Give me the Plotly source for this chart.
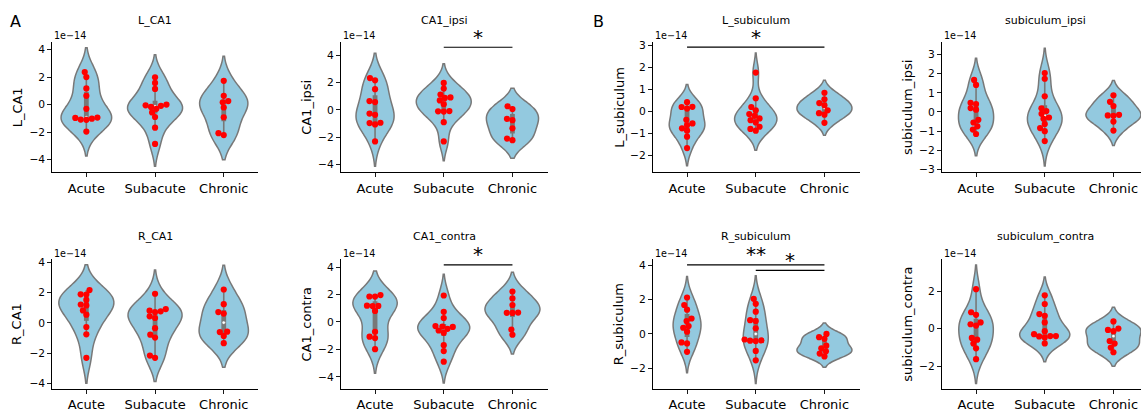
import numpy as np
import plotly.graph_objects as go

categories = ["Acute", "Subacute", "Chronic"]

# Values in units of 1e-14 (axis offset label "1e−14")
L_CA1_acute    = [2.37, 2.00, 1.18, 0.64, -0.31, -0.94, -0.97, -1.02, -1.09, -1.11, -1.96]
L_CA1_subacute = [1.99, 1.58, 1.14, 0.00, -0.05, -0.09, -0.17, -0.31, -0.57, -0.90, -1.68, -2.86]
L_CA1_chronic  = [1.73, 0.64, 0.26, 0.17, -0.21, -0.92, -2.08, -2.22]

CA1_ipsi_acute    = [2.34, 2.17, 1.52, 0.65, 0.58, -0.27, -0.36, -0.94, -0.96, -1.06, -2.31]
CA1_ipsi_subacute = [1.98, 1.57, 1.13, 0.92, 0.88, 0.70, 0.42, -0.08, -0.10, -0.12, -0.90, -2.31]
CA1_ipsi_chronic  = [0.27, 0.07, -0.65, -0.75, -1.35, -2.10, -2.22]

L_subiculum_acute    = [0.42, 0.21, 0.20, 0.13, -0.38, -0.55, -0.62, -0.77, -0.88, -1.15, -1.67]
L_subiculum_subacute = [1.77, 0.60, 0.20, 0.05, -0.12, -0.20, -0.32, -0.40, -0.50, -0.70, -0.80, -0.88]
L_subiculum_chronic  = [0.85, 0.55, 0.38, 0.28, 0.05, -0.08, -0.15, -0.52]

subiculum_ipsi_acute    = [1.67, 1.41, 0.48, 0.41, 0.20, 0.12, -0.41, -0.55, -0.75, -0.92, -1.15]
subiculum_ipsi_subacute = [2.03, 1.73, 0.82, 0.19, 0.05, -0.10, -0.29, -0.36, -0.63, -0.84, -1.00, -1.52]
subiculum_ipsi_chronic  = [0.87, 0.53, 0.31, -0.15, -0.18, -0.20, -0.50, -0.97]

R_CA1_acute    = [2.16, 1.88, 1.87, 1.51, 1.21, 1.15, 0.82, 0.54, -0.28, -0.76, -2.31]
R_CA1_subacute = [1.92, 0.91, 0.80, 0.76, 0.71, 0.43, 0.32, -0.35, -0.78, -0.97, -2.16, -2.31]
R_CA1_chronic  = [2.20, 1.23, 0.71, 0.61, -0.58, -0.61, -0.86, -1.34]

CA1_contra_acute    = [1.96, 1.86, 1.85, 1.19, 1.17, 1.16, 0.81, -0.72, -1.07, -1.17, -1.98]
CA1_contra_subacute = [1.93, 0.74, 0.29, -0.30, -0.33, -0.36, -0.50, -0.62, -0.79, -1.69, -2.12, -2.89]
CA1_contra_chronic  = [2.22, 1.72, 1.24, 0.69, 0.67, 0.66, -0.55, -0.93]

R_subiculum_acute    = [2.13, 1.69, 1.42, 0.90, 0.75, 0.46, 0.36, 0.13, -0.50, -0.56, -1.05]
R_subiculum_subacute = [2.05, 1.76, 1.30, 0.80, 0.75, 0.33, -0.33, -0.38, -0.40, -0.42, -1.00, -1.55]
R_subiculum_chronic  = [0.00, -0.19, -0.29, -0.69, -0.84, -1.02, -1.15, -1.32]

subiculum_contra_acute    = [2.10, 0.87, 0.73, 0.33, 0.23, 0.16, -0.50, -0.59, -0.80, -1.05, -1.63]
subiculum_contra_subacute = [1.77, 1.31, 0.77, 0.68, 0.33, -0.14, -0.30, -0.40, -0.40, -0.42, -0.47, -0.79]
subiculum_contra_chronic  = [0.38, 0.00, -0.07, -0.14, -0.66, -0.80, -1.01, -1.26]

panel_titles = ["L_CA1", "CA1_ipsi", "L_subiculum", "subiculum_ipsi",
                "R_CA1", "CA1_contra", "R_subiculum", "subiculum_contra"]
panel_data = [
    [L_CA1_acute, L_CA1_subacute, L_CA1_chronic],
    [CA1_ipsi_acute, CA1_ipsi_subacute, CA1_ipsi_chronic],
    [L_subiculum_acute, L_subiculum_subacute, L_subiculum_chronic],
    [subiculum_ipsi_acute, subiculum_ipsi_subacute, subiculum_ipsi_chronic],
    [R_CA1_acute, R_CA1_subacute, R_CA1_chronic],
    [CA1_contra_acute, CA1_contra_subacute, CA1_contra_chronic],
    [R_subiculum_acute, R_subiculum_subacute, R_subiculum_chronic],
    [subiculum_contra_acute, subiculum_contra_subacute, subiculum_contra_chronic],
]
# significance annotations: (panel, group_a, group_b, label, bar level in data units)
sig_bars = [
    (1, 1, 2, "*", 4.60),
    (2, 0, 2, "*", 2.93),
    (5, 1, 2, "*", 4.17),
    (6, 0, 2, "**", 4.04),
    (6, 1, 2, "*", 3.72),
]

# ---------------- layout geometry ----------------
W, H = 1141, 414
col_px = [(52.0, 258.0), (340.7, 548.0), (652.7, 860.0), (941.7, 1141.0)]
col_center_px = [155.0, 444.3, 756.3, 1045.0]
ylabel_x_px = [17.0, 306.5, 619.3, 907.7]
row_px = [(40.0, 172.3), (260.3, 392.7)]
title_y_px = [17.3, 237.7]
offset_y_px = [33.3, 254.3]
yranges = [(-4.93, 4.53), (-4.58, 4.96), (-2.78, 3.15), (-3.15, 3.63),
           (-4.37, 4.22), (-4.89, 4.60), (-3.23, 4.39), (-3.22, 3.71)]
ydticks = [2, 2, 1, 1, 2, 2, 2, 2]
px_per_cat = 68.7

FILL = "#93c9df"
EDGE = "#787878"
DOT = "#ff0000"
FONT = "DejaVu Sans"
R_DOT = 2.7  # swarm radius in px


def beeswarm(vals, ppu_y, r):
    vals = np.asarray(vals, float)
    order = np.argsort(vals, kind="stable")
    ys = vals[order] * ppu_y
    swarm = []
    for y in ys:
        neigh = [(xj, yj) for (xj, yj) in swarm if abs(y - yj) < 2 * r]
        cands = [0.0]
        left_first = True
        for xj, yj in neigh:
            dy = y - yj
            dx = np.sqrt(max(4 * r * r - dy * dy, 0.0)) * 1.05
            pair = [xj - dx, xj + dx] if left_first else [xj + dx, xj - dx]
            cands.extend(pair)
            left_first = not left_first
        cands.sort(key=abs)
        chosen = cands[0]
        for cx in cands:
            if all((cx - xj) ** 2 + (y - yj) ** 2 >= 4 * r * r - 1e-9 for xj, yj in neigh):
                chosen = cx
                break
        swarm.append((chosen, y))
    out = np.empty(len(vals))
    out[order] = [s[0] for s in swarm]
    return out


fig = go.Figure()
annotations = []
shapes = []
layout_axes = {}

for k, (title, groups) in enumerate(zip(panel_titles, panel_data)):
    r, c = divmod(k, 4)
    sfx = "" if k == 0 else str(k + 1)
    xa, ya = "x" + sfx, "y" + sfx
    x0p, x1p = col_px[c]
    y0p, y1p = row_px[r]
    ylo, yhi = yranges[k]
    ppu_y = (y1p - y0p) / (yhi - ylo)
    xr = [-0.5, -0.5 + (x1p - x0p) / px_per_cat]

    for i, vals in enumerate(groups):
        v = np.asarray(vals, float)
        n = len(v)
        bw = np.std(v, ddof=1) * n ** (-0.2)
        fig.add_trace(go.Violin(
            x=[i] * n, y=v, xaxis=xa, yaxis=ya, scalegroup=f"p{k}", scalemode="width",
            spanmode="soft", bandwidth=bw, fillcolor=FILL, line=dict(color=EDGE, width=1.5),
            points=False, box_visible=False, meanline_visible=False, opacity=1,
            hoverinfo="skip", showlegend=False))

    for i, vals in enumerate(groups):
        v = np.asarray(vals, float)
        q1, med, q3 = np.percentile(v, [25, 50, 75])
        iqr = q3 - q1
        lo = v[v >= q1 - 1.5 * iqr].min()
        hi = v[v <= q3 + 1.5 * iqr].max()
        fig.add_trace(go.Scatter(x=[i, i], y=[lo, hi], xaxis=xa, yaxis=ya, mode="lines",
                                 line=dict(color=EDGE, width=1.6), hoverinfo="skip", showlegend=False))
        fig.add_trace(go.Scatter(x=[i, i], y=[q1, q3], xaxis=xa, yaxis=ya, mode="lines",
                                 line=dict(color=EDGE, width=4.8), hoverinfo="skip", showlegend=False))
        fig.add_trace(go.Scatter(x=[i], y=[med], xaxis=xa, yaxis=ya, mode="markers",
                                 marker=dict(color="white", size=3.4, line=dict(color=EDGE, width=0.5)),
                                 hoverinfo="skip", showlegend=False))

    for i, vals in enumerate(groups):
        v = np.asarray(vals, float)
        offs = beeswarm(v, ppu_y, R_DOT) / px_per_cat
        fig.add_trace(go.Scatter(x=i + offs, y=v, xaxis=xa, yaxis=ya, mode="markers",
                                 marker=dict(color=DOT, size=6.2, line=dict(width=0)),
                                 hoverinfo="skip", showlegend=False))

    layout_axes["xaxis" + sfx] = dict(
        domain=[x0p / W, x1p / W], anchor=ya, range=xr, tickmode="array",
        tickvals=[0, 1, 2], ticktext=categories, showline=True, linecolor="black", linewidth=1,
        ticks="outside", ticklen=3.7, tickwidth=0.9, tickcolor="black", showgrid=False,
        zeroline=False, tickfont=dict(family=FONT, size=13, color="black"), fixedrange=True)
    layout_axes["yaxis" + sfx] = dict(
        domain=[1 - y1p / H, 1 - y0p / H], anchor=xa, range=[ylo, yhi], tick0=0,
        dtick=ydticks[k], showline=True, linecolor="black", linewidth=1, ticks="outside",
        ticklen=3.7, tickwidth=0.9, tickcolor="black", showgrid=False, zeroline=False,
        tickfont=dict(family=FONT, size=10.7, color="black"), fixedrange=True)

    # subplot title
    annotations.append(dict(text=title, xref="paper", yref="paper", x=col_center_px[c] / W,
                            y=1 - title_y_px[r] / H, xanchor="center", yanchor="middle",
                            showarrow=False, font=dict(family=FONT, size=11, color="black")))
    # y-axis label
    annotations.append(dict(text=title, xref="paper", yref="paper", x=ylabel_x_px[c] / W,
                            y=1 - (y0p + y1p) / 2 / H, xanchor="center", yanchor="middle",
                            textangle=-90, showarrow=False,
                            font=dict(family=FONT, size=13, color="black")))
    # offset text
    annotations.append(dict(text="1e\u221214", xref="paper", yref="paper", x=x0p / W,
                            y=1 - offset_y_px[r] / H, xanchor="left", yanchor="middle",
                            showarrow=False, font=dict(family=FONT, size=9.6, color="black")))

for (k, a, b, lab, lev) in sig_bars:
    sfx = "" if k == 0 else str(k + 1)
    shapes.append(dict(type="line", xref="x" + sfx, yref="y" + sfx, x0=a, x1=b, y0=lev, y1=lev,
                       line=dict(color="black", width=1.2)))
    annotations.append(dict(text=lab, xref="x" + sfx, yref="y" + sfx, x=(a + b) / 2, y=lev,
                            xanchor="center", yanchor="middle", yshift=10.5, showarrow=False,
                            font=dict(family=FONT, size=20, color="black")))

annotations.append(dict(text="A", xref="paper", yref="paper", x=15.3 / W, y=1 - 19.2 / H,
                        xanchor="center", yanchor="middle", showarrow=False,
                        font=dict(family=FONT, size=16, color="black")))
annotations.append(dict(text="B", xref="paper", yref="paper", x=598 / W, y=1 - 19.2 / H,
                        xanchor="center", yanchor="middle", showarrow=False,
                        font=dict(family=FONT, size=16, color="black")))

fig.update_layout(
    width=W, height=H, margin=dict(l=0, r=0, t=0, b=0), autosize=False,
    paper_bgcolor="white", plot_bgcolor="white", showlegend=False,
    violingap=0.2, violingroupgap=0, violinmode="overlay",
    annotations=annotations, shapes=shapes, font=dict(family=FONT), **layout_axes)

fig.write_html("out.html", config={"displayModeBar": False, "staticPlot": True},
               post_script="document.body.style.margin='0';document.body.style.padding='0';"
                           "document.documentElement.style.overflow='hidden';")
